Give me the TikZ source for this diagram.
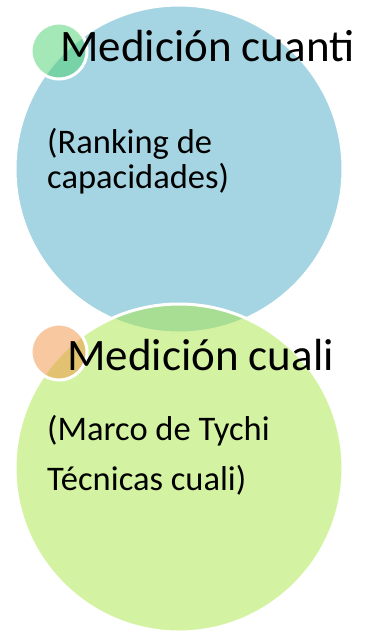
\documentclass[tikz,border=0pt]{standalone}
\usepackage{fontspec}
\setmainfont{Carlito}
\definecolor{bluec}{RGB}{165,213,226}
\definecolor{greenc}{RGB}{169,231,69}
\definecolor{smallgreen}{RGB}{75,209,111}
\definecolor{smallorange}{RGB}{241,145,65}
\begin{document}
\begin{tikzpicture}[x=1pt,y=-1pt,
  bigcirc/.style={circle,minimum size=328pt,inner sep=0pt},
  smallcirc/.style={circle,minimum size=56pt,inner sep=0pt,draw=white,line width=3pt,fill opacity=0.5},
  title/.style={anchor=base west,inner sep=0pt,font=\fontsize{45}{50}\selectfont},
  body/.style={anchor=base west,inner sep=0pt,font=\fontsize{34.5}{37}\selectfont}]
\useasboundingbox (0,0) rectangle (368,634);
\node[bigcirc,fill=bluec,draw=white,line width=3pt] (blue) at (179,169) {};
\node[bigcirc,fill=greenc,fill opacity=0.5,draw=white,line width=3pt] (green) at (179,468) {};
\node[smallcirc,fill=smallgreen] (sg) at (59,51) {};
\node[smallcirc,fill=smallorange] (so) at (59,352) {};
\node[title] (t1) at (60,62) {Medición cuanti};
\node[body] (b1) at (47,153) {(Ranking de};
\node[body] (b1b) at (47,188) {capacidades)};
\node[title] (t2) at (67,370) {Medición cuali};
\node[body] (b2) at (47,440) {(Marco de Tychi};
\node[body] (b2b) at (47,490) {Técnicas cuali)};
\end{tikzpicture}
\end{document}
